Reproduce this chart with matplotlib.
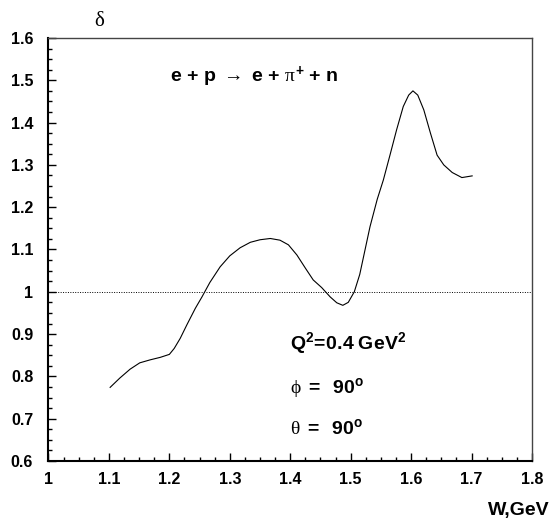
import numpy as np
import matplotlib.pyplot as plt
from matplotlib.ticker import MultipleLocator

plt.rcParams['font.family'] = ['Liberation Sans', 'DejaVu Sans']
plt.rcParams['mathtext.fontset'] = 'custom'
plt.rcParams['mathtext.rm'] = 'Liberation Serif'
plt.rcParams['mathtext.it'] = 'Liberation Serif'
plt.rcParams['mathtext.bf'] = 'Liberation Sans:bold'

# Kurve delta(W)
W = [1.102, 1.118, 1.135, 1.151, 1.168, 1.185, 1.200, 1.208, 1.218, 1.229,
     1.243, 1.254, 1.267, 1.284, 1.300, 1.317, 1.334, 1.350, 1.367, 1.383,
     1.397, 1.411, 1.425, 1.438, 1.452, 1.466, 1.477, 1.487, 1.496, 1.506,
     1.515, 1.532, 1.544, 1.554, 1.565, 1.576, 1.587, 1.596, 1.603, 1.611,
     1.621, 1.632, 1.643, 1.654, 1.668, 1.684, 1.701]
delta = [0.774, 0.796, 0.817, 0.832, 0.839, 0.845, 0.852, 0.866, 0.890, 0.922,
         0.961, 0.988, 1.022, 1.059, 1.085, 1.104, 1.117, 1.123, 1.126, 1.122,
         1.111, 1.087, 1.056, 1.028, 1.010, 0.988, 0.974, 0.968, 0.975, 1.000,
         1.041, 1.154, 1.219, 1.264, 1.323, 1.383, 1.438, 1.465, 1.475, 1.465,
         1.430, 1.375, 1.323, 1.300, 1.282, 1.270, 1.274]

x_ticks = [1.0, 1.1, 1.2, 1.3, 1.4, 1.5, 1.6, 1.7, 1.8]
x_labels = ['1', '1.1', '1.2', '1.3', '1.4', '1.5', '1.6', '1.7', '1.8']
y_ticks = [0.6, 0.7, 0.8, 0.9, 1.0, 1.1, 1.2, 1.3, 1.4, 1.5, 1.6]
y_labels = ['0.6', '0.7', '0.8', '0.9', '1', '1.1', '1.2', '1.3', '1.4', '1.5', '1.6']

fig = plt.figure(figsize=(5.51, 5.19), dpi=100)
ax = fig.add_axes([0.088, 0.1118, 0.8775, 0.815])

ax.plot(W, delta, color='black', lw=0.8, solid_joinstyle='round')
ax.axhline(1.0, color='black', lw=0.7, ls=(0, (1, 1.5)))

ax.set_xlim(1.0, 1.8)
ax.set_ylim(0.6, 1.6)
ax.set_xticks(x_ticks)
ax.set_xticklabels(x_labels, fontweight='bold', fontsize=11.5)
ax.set_yticks(y_ticks)
ax.set_yticklabels(y_labels, fontweight='bold', fontsize=11.5)
ax.xaxis.set_minor_locator(MultipleLocator(0.025))
ax.yaxis.set_minor_locator(MultipleLocator(0.025))
ax.tick_params(which='both', direction='in', top=False, right=False, width=1.0)
ax.tick_params(which='major', length=6)
ax.tick_params(which='minor', length=3)
ax.tick_params(axis='x', pad=8)
ax.tick_params(axis='y', pad=11)

for s in ('left', 'bottom'):
    ax.spines[s].set_linewidth(1.5)
for s in ('top', 'right'):
    ax.spines[s].set_linewidth(1.0)
    ax.spines[s].set_color('#444444')

ax.text(1.201, 1.508, r'e + p $\rightarrow$ e + $\pi^{\mathbf{+}}$ + n',
        fontsize=14, fontweight='bold', va='center', ha='left')
ax.text(1.400, 0.879, r'$\mathbf{Q^{2}\!=\!0.4\ GeV^{2}}$', fontsize=14, va='center', ha='left')
ax.text(1.400, 0.773, r'$\phi\ \mathbf{=\ \ 90^{o}}$', fontsize=14, va='center', ha='left')
ax.text(1.400, 0.678, r'$\theta\ \mathbf{=\ \ 90^{o}}$', fontsize=14, va='center', ha='left')

fig.text(100 / 551, 1 - 20 / 519, r'$\delta$', fontsize=15, ha='center', va='center')
fig.text(550 / 551, 1 - 510 / 519, 'W,GeV', fontsize=14, fontweight='bold', ha='right', va='center')

fig.savefig('out.png', dpi=100)
